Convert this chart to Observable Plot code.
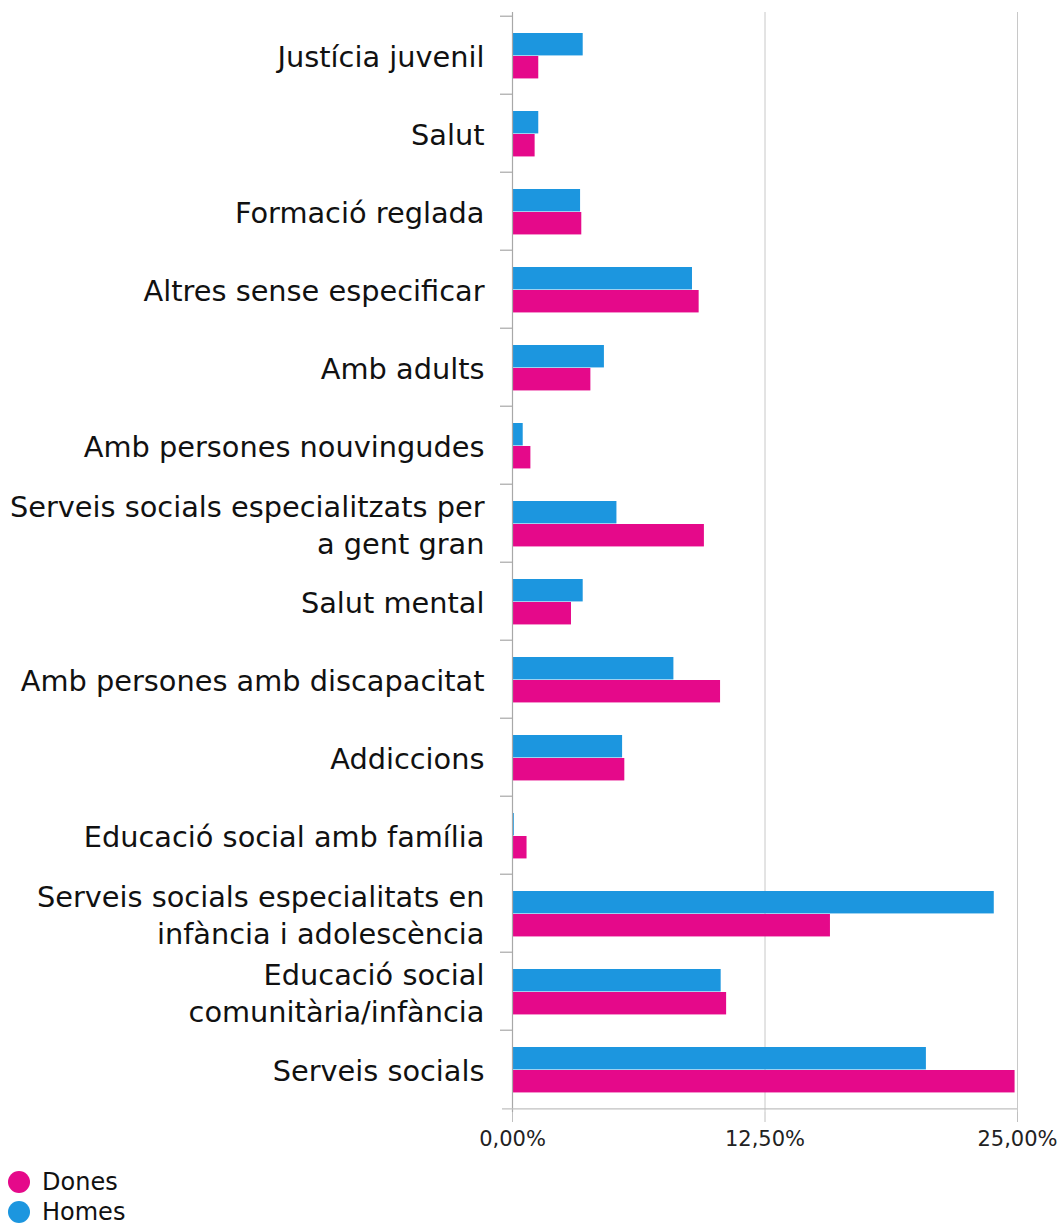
<!DOCTYPE html>
<html>
<head>
<meta charset="utf-8">
<script src="https://cdn.jsdelivr.net/npm/d3@7"></script>
<script src="https://cdn.jsdelivr.net/npm/@observablehq/plot@0.6"></script>
<style>
  body { margin: 0; background: #fff; font-family: "DejaVu Sans", sans-serif; }
  #chart svg { display: block; }
  .legend { margin-left: 8px; padding-top: 5px; font-size: 24px; color: #111; line-height: 30px; }
  .legend div { display: flex; align-items: center; }
  .legend span.dot { width: 22px; height: 22px; border-radius: 50%; display: inline-block; margin-right: 12px; }
</style>
</head>
<body>
<div id="chart"></div>
<div class="legend" id="legend"></div>
<script>
const categories = [
  "Justícia juvenil",
  "Salut",
  "Formació reglada",
  "Altres sense especificar",
  "Amb adults",
  "Amb persones nouvingudes",
  "Serveis socials especialitzats per\na gent gran",
  "Salut mental",
  "Amb persones amb discapacitat",
  "Addiccions",
  "Educació social amb família",
  "Serveis socials especialitats en\ninfància i adolescència",
  "Educació social\ncomunitària/infància",
  "Serveis socials"
];
const homes = [3.50, 1.30, 3.37, 8.91, 4.55, 0.53, 5.17, 3.50, 7.99, 5.45, 0.09, 23.85, 10.33, 20.49];
const dones = [1.30, 1.12, 3.43, 9.24, 3.88, 0.91, 9.50, 2.92, 10.30, 5.56, 0.72, 15.74, 10.60, 24.88];
const xTicks = [0, 12.5, 25];
const seriesNames = ["Dones", "Homes"];
const seriesColors = ["#E5098A", "#1C96DF"];

const homesData = categories.map((c, i) => ({category: c, value: homes[i]}));
const donesData = categories.map((c, i) => ({category: c, value: dones[i]}));

const marginTop = 12, marginBottom = 50, height = 1162;
const step = (height - marginTop - marginBottom) / categories.length;

const chart = Plot.plot({
  width: 1058,
  height,
  marginTop,
  marginBottom,
  marginLeft: 512,
  marginRight: 41,
  style: {fontFamily: "DejaVu Sans, sans-serif", color: "#111", background: "#fff"},
  x: {domain: [0, 25]},
  y: {domain: categories, padding: 0},
  marks: [
    Plot.ruleX(xTicks.slice(1), {stroke: "#c8c8c8", strokeWidth: 1, strokeOpacity: 1}),
    Plot.barX(homesData, {y: "category", x: "value", fill: seriesColors[1], insetTop: 17, insetBottom: step - 40}),
    Plot.barX(donesData, {y: "category", x: "value", fill: seriesColors[0], insetTop: 40, insetBottom: step - 63}),
    Plot.ruleX([0], {stroke: "#a8a8a8", strokeWidth: 1.2}),
    Plot.ruleY(categories, {y: d => d, x1: 0, x2: 0, insetLeft: -12, dy: -step / 2, stroke: "#a8a8a8", strokeWidth: 1.2}),
    Plot.ruleY(categories.slice(-1), {y: d => d, x1: 0, x2: 25, insetLeft: -10, dy: step / 2, stroke: "#c0c0c0", strokeWidth: 1.2}),
    Plot.axisX({
      ticks: xTicks,
      tickSize: 10,
      tickPadding: 9,
      stroke: "#c0c0c0",
      fontSize: 21,
      fill: "#222",
      tickFormat: d => d.toFixed(2).replace(".", ",") + "%",
      label: null
    }),
    Plot.axisY({
      tickSize: 0,
      tickPadding: 28,
      fontSize: 28.8,
      fill: "#111",
      lineHeight: 1.28,
      label: null
    })
  ]
});
document.getElementById("chart").appendChild(chart);

const legend = document.getElementById("legend");
seriesNames.forEach((name, i) => {
  const row = document.createElement("div");
  const dot = document.createElement("span");
  dot.className = "dot";
  dot.style.background = seriesColors[i];
  row.appendChild(dot);
  row.appendChild(document.createTextNode(name));
  legend.appendChild(row);
});
</script>
</body>
</html>
